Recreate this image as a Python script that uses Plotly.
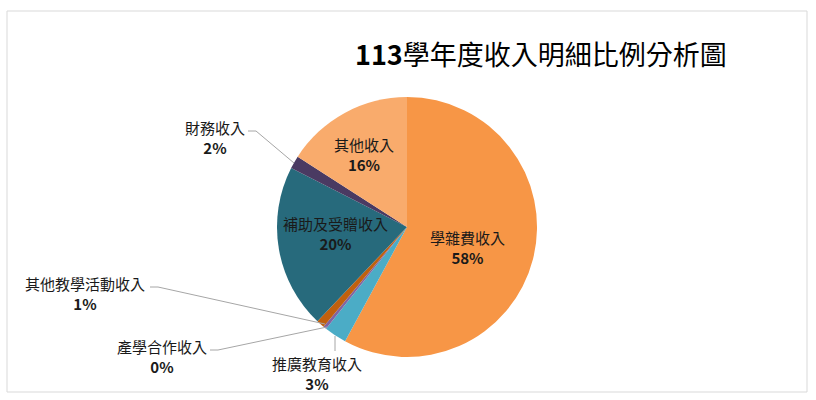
import plotly.graph_objects as go

# slice data, clockwise from 12 o'clock
labels = ["學雜費收入", "推廣教育收入", "產學合作收入", "其他教學活動收入",
          "補助及受贈收入", "財務收入", "其他收入"]
values = [57.9, 2.8, 0.4, 1.0, 20.4, 1.6, 15.9]
colors = ["#F79646", "#4BACC6", "#8064A2", "#C0600E",
          "#276A7C", "#4A3A62", "#F9AB6C"]
title = "113學年度收入明細比例分析圖"

W, H = 816, 400
cx, cy, r = 407, 227, 130

# label centre positions in pixels (x, y)
label_pos = [(467, 247), (317, 373), (162, 356), (85, 293),
             (335, 233), (215, 137), (364, 154)]

# leader lines for labels placed outside the pie, in pixels
leaders = [
    [(335, 351), (335, 336)],
    [(210, 350), (218, 350), (327, 327)],
    [(150, 287), (158, 287), (325, 324)],
    [(248, 131), (256, 131), (294, 163)],
]


def px(x):
    return x / W


def py(y):
    return 1 - y / H


total = sum(values)
pcts = [round(v / total * 100) for v in values]

fig = go.Figure(
    go.Pie(
        labels=labels,
        values=values,
        sort=False,
        direction="clockwise",
        rotation=0,
        marker=dict(colors=colors, line=dict(width=0)),
        textinfo="none",
        hoverinfo="label+percent",
        showlegend=False,
        domain=dict(x=[px(cx - r), px(cx + r)], y=[py(cy + r), py(cy - r)]),
    )
)

font_family = "Microsoft JhengHei, Noto Sans CJK TC, sans-serif"

annotations = []
for lab, pct, (x, y) in zip(labels, pcts, label_pos):
    annotations.append(dict(
        x=px(x), y=py(y), xref="paper", yref="paper",
        xanchor="center", yanchor="middle", showarrow=False,
        text=f"{lab}<br><b>{pct}%</b>",
        font=dict(family=font_family, size=15, color="#1a1a1a"),
    ))

annotations.append(dict(
    x=px(541), y=py(53), xref="paper", yref="paper",
    xanchor="center", yanchor="middle", showarrow=False,
    text="<b>113</b>" + title[3:],
    font=dict(family=font_family, size=27, color="#000000"),
))

shapes = [dict(
    type="rect", xref="paper", yref="paper",
    x0=px(7), x1=px(807), y0=py(392), y1=py(11),
    line=dict(color="#D9D9D9", width=1), fillcolor="rgba(0,0,0,0)",
)]
for pts in leaders:
    path = "M " + " L ".join(f"{px(x)},{py(y)}" for x, y in pts)
    shapes.append(dict(
        type="path", xref="paper", yref="paper", path=path,
        line=dict(color="#A6A6A6", width=1),
    ))

fig.update_layout(
    width=W, height=H,
    margin=dict(l=0, r=0, t=0, b=0),
    paper_bgcolor="white",
    plot_bgcolor="white",
    annotations=annotations,
    shapes=shapes,
)

# drop the default body margin so the figure fills the window
fig.write_html(
    "out.html",
    config={"displayModeBar": False},
    post_script="document.body.style.margin='0';",
)
